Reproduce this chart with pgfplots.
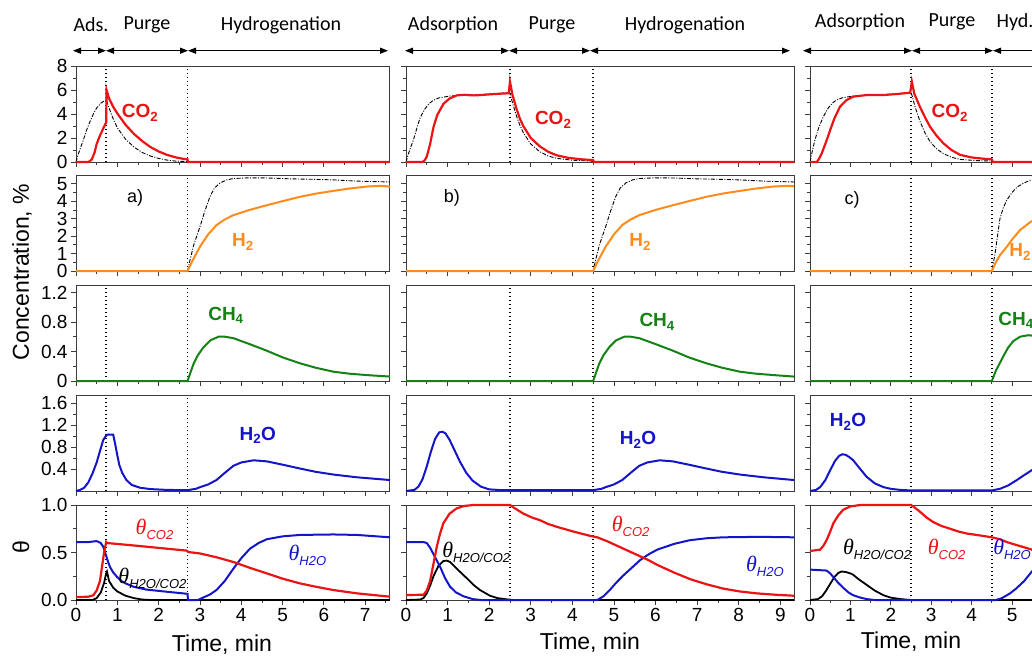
\documentclass[border=0pt]{standalone}
\usepackage{fontspec}
\setmainfont{Liberation Sans}
\newfontfamily\calib{Carlito}
\newfontfamily\tserif{Liberation Serif}
\usepackage{pgfplots}
\pgfplotsset{compat=1.18}
\usetikzlibrary{arrows.meta}
\definecolor{cred}{RGB}{235,20,20}
\definecolor{corange}{RGB}{255,140,26}
\definecolor{cgreen}{RGB}{20,130,20}
\definecolor{cblue}{RGB}{20,20,200}
\definecolor{cframe}{RGB}{60,60,60}
\newcommand{\thl}[1]{{\fontsize{22}{22}\selectfont\tserif\itshape θ}\raisebox{-5pt}{\fontsize{13}{13}\selectfont\itshape #1}}
\pgfplotsset{
  base/.style={scale only axis, xmin=0, ymin=0, height=96pt,
    tick align=outside, axis line style={line width=1pt, cframe},
    every tick/.append style={cframe, line width=0.8pt},
    major tick length=5pt, minor tick length=3pt,
    xtick distance=1, minor x tick num=1, minor y tick num=1,
    xtick pos=bottom, ytick pos=left,
    tick label style={font=\fontsize{19}{19}\selectfont},
    /pgf/number format/assume math mode=true,
    clip=false},
  noxl/.style={xticklabels={}},
  colA/.style={width=314pt, xmax=7.6},
  colB/.style={width=388pt, xmax=9.33, yticklabels={}},
  colC/.style={width=377pt, xmax=9.33, yticklabels={}},
  r1/.style={ymax=8, ytick={0,2,4,6,8}},
  r2/.style={ymax=5.5, ytick={0,1,2,3,4,5}},
  r3/.style={ymax=1.3, ytick={0,0.4,0.8,1.2}},
  r4/.style={ymax=1.75, ytick={0.4,0.8,1.2,1.6}},
  r5/.style={ymax=1, height=95pt, ytick={0,0.5,1}},
  vl/.style={black, line width=1.4pt, dash pattern=on 1.4pt off 2.6pt, forget plot},
  dd/.style={black, line width=0.9pt, dash pattern=on 4pt off 1.5pt on 1pt off 1.5pt},
  lr/.style={cred, line width=2.2pt},
  lo/.style={corange, line width=2pt},
  lg/.style={cgreen, line width=2pt},
  lb/.style={cblue, line width=2pt},
  lk/.style={black, line width=1.8pt},
}
\tikzset{spl/.style={font=\fontsize{19}{19}\selectfont\bfseries}, pl/.style={font=\fontsize{18}{18}\selectfont}}
\begin{document}
\begin{tikzpicture}
\useasboundingbox (0,0) rectangle (1032pt,-656pt);
\clip (0,0) rectangle (1032pt,-656pt);
%================ COLUMN A =================
\begin{axis}[base,colA,r1,noxl,at={(76pt,-162pt)},anchor=south west]
\addplot[vl] coordinates {(0.73,0) (0.73,8)};
\addplot[vl] coordinates {(2.7,0) (2.7,8)};
\addplot[dd] coordinates {(0,0) (0.05,0.6) (0.1,1.1) (0.18,1.85) (0.25,2.6) (0.33,3.3) (0.42,4.0) (0.5,4.5) (0.6,4.9) (0.73,5.2) (0.8,4.5) (0.9,3.6) (1.0,2.85) (1.2,1.9) (1.4,1.25) (1.6,0.8) (1.8,0.5) (2.0,0.3) (2.2,0.16) (2.4,0.08) (2.7,0.03) (2.72,0) (7.6,0)};
\addplot[lr] coordinates {(0,0) (0.3,0) (0.38,0.2) (0.45,0.8) (0.5,1.5) (0.58,2.2) (0.66,2.8) (0.73,3.3) (0.74,6.0) (0.8,5.3) (0.9,4.6) (1.0,4.05) (1.2,3.1) (1.4,2.35) (1.6,1.75) (1.8,1.25) (2.0,0.88) (2.2,0.6) (2.4,0.4) (2.6,0.26) (2.7,0.22) (2.71,0) (7.6,0)};
\node[spl,text=cred] at (axis cs:1.55,4.1) {CO\textsubscript{2}};
\end{axis}
\begin{axis}[base,colA,r2,noxl,at={(76pt,-271pt)},anchor=south west]
\addplot[vl] coordinates {(2.7,0) (2.7,5.5)};
\addplot[dd] coordinates {(0,0) (2.7,0) (2.76,0.63) (2.85,1.5) (3.0,2.53) (3.1,3.3) (3.24,4.25) (3.35,4.75) (3.49,5.05) (3.65,5.22) (3.81,5.3) (4.2,5.34) (4.62,5.33) (5.2,5.28) (5.8,5.25) (6.23,5.22) (6.8,5.15) (7.6,5.1)};
\addplot[lo] coordinates {(0,0) (2.7,0) (2.8,0.5) (2.9,0.95) (3.0,1.39) (3.2,2.1) (3.4,2.63) (3.6,2.95) (3.81,3.2) (4.2,3.5) (4.62,3.77) (5.0,4.0) (5.42,4.25) (5.8,4.43) (6.23,4.59) (6.6,4.72) (7.04,4.84) (7.4,4.88) (7.6,4.83)};
\node[spl,text=corange] at (axis cs:4.04,1.67) {H\textsubscript{2}};
\node[pl] at (axis cs:1.43,4.2) {a)};
\end{axis}
\begin{axis}[base,colA,r3,noxl,at={(76pt,-381pt)},anchor=south west]
\addplot[vl] coordinates {(0.73,0) (0.73,1.3)};
\addplot[vl] coordinates {(2.7,0) (2.7,1.3)};
\addplot[lg] coordinates {(0,0) (2.7,0) (2.78,0.13) (2.85,0.24) (2.95,0.35) (3.09,0.46) (3.25,0.55) (3.45,0.6) (3.6,0.6) (3.81,0.58) (4.2,0.5) (4.62,0.41) (5.0,0.32) (5.42,0.24) (5.8,0.18) (6.23,0.126) (6.6,0.1) (7.04,0.08) (7.6,0.06)};
\node[spl,text=cgreen] at (axis cs:3.63,0.89) {CH\textsubscript{4}};
\end{axis}
\begin{axis}[base,colA,r4,noxl,at={(76pt,-491pt)},anchor=south west]
\addplot[vl] coordinates {(0.73,0) (0.73,1.75)};
\addplot[vl] coordinates {(2.7,0) (2.7,1.75)};
\addplot[lb] coordinates {(0,0) (0.1,0.02) (0.2,0.06) (0.3,0.16) (0.4,0.32) (0.5,0.52) (0.6,0.78) (0.66,0.93) (0.72,1.0) (0.76,1.03) (0.9,1.03) (0.95,0.85) (1.0,0.65) (1.05,0.47) (1.12,0.33) (1.22,0.2) (1.35,0.11) (1.55,0.06) (1.8,0.035) (2.2,0.02) (2.7,0.015) (2.9,0.04) (3.0,0.07) (3.2,0.12) (3.4,0.2) (3.6,0.33) (3.81,0.46) (4.0,0.52) (4.3,0.56) (4.62,0.54) (5.0,0.48) (5.42,0.41) (5.8,0.35) (6.23,0.3) (6.8,0.25) (7.6,0.2)};
\node[spl,text=cblue] at (axis cs:4.4,1.02) {H\textsubscript{2}O};
\end{axis}
\begin{axis}[base,colA,r5,yticklabels={0.0,0.5,1.0},at={(76pt,-600pt)},anchor=south west]
\addplot[vl] coordinates {(0.73,0) (0.73,1)};
\addplot[vl] coordinates {(2.7,0) (2.7,1)};
\addplot[lk] coordinates {(0,0) (0.4,0) (0.5,0.02) (0.6,0.08) (0.68,0.18) (0.73,0.28) (0.75,0.3) (0.8,0.2) (0.9,0.13) (1.0,0.09) (1.2,0.045) (1.4,0.02) (1.6,0.005) (1.8,0) (7.6,0)};
\addplot[lb] coordinates {(0,0.61) (0.3,0.61) (0.5,0.62) (0.6,0.6) (0.66,0.56) (0.72,0.48) (0.77,0.41) (0.82,0.35) (0.9,0.29) (1.0,0.24) (1.1,0.2) (1.2,0.175) (1.39,0.14) (1.7,0.11) (2.2,0.087) (2.7,0.065) (2.71,0) (2.95,0) (3.1,0.03) (3.25,0.06) (3.4,0.105) (3.6,0.2) (3.81,0.33) (4.0,0.44) (4.21,0.54) (4.42,0.6) (4.62,0.64) (5.0,0.67) (5.42,0.685) (6.23,0.69) (6.8,0.685) (7.6,0.66)};
\addplot[lr] coordinates {(0,0.03) (0.3,0.035) (0.42,0.05) (0.5,0.1) (0.58,0.2) (0.63,0.35) (0.68,0.5) (0.73,0.61) (0.75,0.6) (1.5,0.57) (2.2,0.54) (2.68,0.52) (2.72,0.505) (3.0,0.49) (3.4,0.45) (3.81,0.4) (4.2,0.34) (4.62,0.28) (5.0,0.225) (5.42,0.175) (5.8,0.14) (6.23,0.105) (6.8,0.07) (7.6,0.035)};
\node[text=cred] at (axis cs:1.9,0.74) {\thl{CO2}};
\node[text=black] at (axis cs:1.85,0.23) {\thl{H2O/CO2}};
\node[text=cblue] at (axis cs:5.6,0.47) {\thl{H2O}};
\end{axis}
%================ COLUMN B =================
\begin{axis}[base,colB,r1,noxl,at={(406pt,-162pt)},anchor=south west]
\addplot[vl] coordinates {(2.5,0) (2.5,8)};
\addplot[vl] coordinates {(4.5,0) (4.5,8)};
\addplot[dd] coordinates {(0,0) (0.06,0.7) (0.12,1.3) (0.18,1.85) (0.26,2.8) (0.34,3.7) (0.45,4.4) (0.55,4.85) (0.66,5.15) (0.8,5.35) (1.06,5.5) (1.3,5.55) (1.62,5.58) (2.0,5.65) (2.46,5.77) (2.5,5.7) (2.58,4.7) (2.66,3.8) (2.74,3.05) (2.82,2.45) (3.0,1.5) (3.22,0.85) (3.42,0.5) (3.63,0.3) (4.0,0.15) (4.45,0.08) (4.5,0.06) (4.52,0) (9.33,0)};
\addplot[lr] coordinates {(0,0) (0.4,0) (0.45,0.15) (0.5,0.45) (0.58,1.5) (0.66,2.9) (0.75,3.9) (0.9,4.85) (1.05,5.3) (1.22,5.55) (1.4,5.6) (1.62,5.55) (1.8,5.58) (2.02,5.64) (2.2,5.68) (2.47,5.73) (2.5,6.7) (2.56,5.6) (2.66,4.4) (2.74,3.6) (2.82,3.0) (3.0,2.0) (3.22,1.3) (3.42,0.85) (3.63,0.55) (3.9,0.35) (4.2,0.23) (4.45,0.17) (4.5,0.15) (4.52,0) (9.33,0)};
\node[spl,text=cred] at (axis cs:3.54,3.5) {CO\textsubscript{2}};
\end{axis}
\begin{axis}[base,colB,r2,noxl,at={(406pt,-271pt)},anchor=south west]
\addplot[vl] coordinates {(4.5,0) (4.5,5.5)};
\addplot[dd] coordinates {(0,0) (4.5,0) (4.56,0.63) (4.65,1.5) (4.8,2.53) (4.9,3.3) (5.04,4.25) (5.15,4.75) (5.29,5.05) (5.45,5.22) (5.61,5.3) (6.0,5.34) (6.42,5.33) (7.0,5.28) (7.6,5.25) (8.03,5.22) (8.6,5.15) (9.33,5.1)};
\addplot[lo] coordinates {(0,0) (4.5,0) (4.6,0.5) (4.7,0.95) (4.8,1.39) (5.0,2.1) (5.2,2.63) (5.4,2.95) (5.61,3.2) (6.0,3.5) (6.42,3.77) (6.8,4.0) (7.22,4.25) (7.6,4.43) (8.03,4.59) (8.4,4.72) (8.84,4.84) (9.2,4.88) (9.33,4.86)};
\node[spl,text=corange] at (axis cs:5.63,1.67) {H\textsubscript{2}};
\node[pl] at (axis cs:1.1,4.2) {b)};
\end{axis}
\begin{axis}[base,colB,r3,noxl,at={(406pt,-381pt)},anchor=south west]
\addplot[vl] coordinates {(2.5,0) (2.5,1.3)};
\addplot[vl] coordinates {(4.5,0) (4.5,1.3)};
\addplot[lg] coordinates {(0,0) (4.5,0) (4.58,0.13) (4.65,0.24) (4.75,0.35) (4.89,0.46) (5.05,0.55) (5.25,0.6) (5.4,0.6) (5.61,0.58) (6.0,0.5) (6.42,0.41) (6.8,0.32) (7.22,0.24) (7.6,0.18) (8.03,0.126) (8.4,0.1) (8.84,0.08) (9.33,0.06)};
\node[spl,text=cgreen] at (axis cs:6.04,0.8) {CH\textsubscript{4}};
\end{axis}
\begin{axis}[base,colB,r4,noxl,at={(406pt,-491pt)},anchor=south west]
\addplot[vl] coordinates {(2.5,0) (2.5,1.75)};
\addplot[vl] coordinates {(4.5,0) (4.5,1.75)};
\addplot[lb] coordinates {(0,0) (0.2,0.02) (0.3,0.08) (0.4,0.22) (0.5,0.45) (0.6,0.72) (0.7,0.95) (0.8,1.07) (0.88,1.08) (0.95,1.05) (1.05,0.93) (1.15,0.77) (1.3,0.53) (1.45,0.33) (1.6,0.19) (1.8,0.08) (2.0,0.03) (2.3,0.015) (4.5,0.015) (4.7,0.04) (4.8,0.07) (5.0,0.12) (5.2,0.2) (5.4,0.33) (5.61,0.46) (5.8,0.52) (6.1,0.56) (6.42,0.54) (6.8,0.48) (7.22,0.41) (7.6,0.35) (8.03,0.3) (8.6,0.25) (9.33,0.2)};
\node[spl,text=cblue] at (axis cs:5.58,0.93) {H\textsubscript{2}O};
\end{axis}
\begin{axis}[base,colB,r5,at={(406pt,-600pt)},anchor=south west]
\addplot[vl] coordinates {(2.5,0) (2.5,1)};
\addplot[vl] coordinates {(4.5,0) (4.5,1)};
\addplot[lk] coordinates {(0,0) (0.34,0.005) (0.42,0.02) (0.5,0.07) (0.58,0.15) (0.66,0.25) (0.78,0.36) (0.9,0.41) (0.98,0.415) (1.06,0.4) (1.22,0.33) (1.34,0.28) (1.46,0.23) (1.62,0.16) (1.78,0.105) (2.02,0.045) (2.2,0.02) (2.42,0.007) (2.6,0) (9.33,0)};
\addplot[lb] coordinates {(0,0.61) (0.42,0.61) (0.5,0.6) (0.58,0.55) (0.7,0.45) (0.82,0.35) (0.94,0.23) (1.06,0.14) (1.2,0.08) (1.38,0.04) (1.6,0.01) (1.8,0) (4.6,0) (4.75,0.04) (4.9,0.105) (5.05,0.18) (5.23,0.26) (5.43,0.34) (5.63,0.42) (5.83,0.48) (6.04,0.53) (6.44,0.59) (6.83,0.63) (7.23,0.65) (7.63,0.66) (8.5,0.665) (9.33,0.66)};
\addplot[lr] coordinates {(0,0.053) (0.42,0.055) (0.5,0.1) (0.58,0.2) (0.66,0.38) (0.74,0.56) (0.82,0.7) (0.9,0.81) (1.05,0.91) (1.22,0.965) (1.4,0.99) (1.62,1.0) (2.5,1.0) (2.6,0.97) (2.82,0.91) (3.02,0.87) (3.22,0.84) (3.42,0.8) (3.63,0.77) (4.03,0.72) (4.43,0.675) (4.6,0.66) (4.83,0.62) (5.03,0.58) (5.23,0.54) (5.43,0.5) (5.63,0.46) (5.83,0.42) (6.04,0.37) (6.44,0.29) (6.83,0.22) (7.23,0.165) (7.63,0.12) (8.03,0.09) (8.43,0.07) (8.9,0.055) (9.33,0.045)};
\node[text=black] at (axis cs:1.69,0.5) {\thl{H2O/CO2}};
\node[text=cred] at (axis cs:5.4,0.77) {\thl{CO2}};
\node[text=cblue] at (axis cs:8.63,0.35) {\thl{H2O}};
\end{axis}
%================ COLUMN C =================
\begin{axis}[base,colC,r1,noxl,at={(810pt,-162pt)},anchor=south west]
\addplot[vl] coordinates {(2.5,0) (2.5,8)};
\addplot[vl] coordinates {(4.5,0) (4.5,8)};
\addplot[dd] coordinates {(0,0) (0.05,0.8) (0.12,1.83) (0.22,2.9) (0.33,3.78) (0.45,4.5) (0.55,4.9) (0.66,5.17) (0.8,5.35) (1.07,5.5) (1.6,5.58) (2.0,5.65) (2.48,5.77) (2.52,5.6) (2.6,4.6) (2.72,3.4) (2.85,2.4) (2.97,1.7) (3.13,1.1) (3.3,0.7) (3.5,0.4) (3.71,0.22) (4.1,0.12) (4.5,0.08) (4.52,0) (9.33,0)};
\addplot[lr] coordinates {(0,0) (0.17,0) (0.22,0.25) (0.29,0.72) (0.4,1.7) (0.5,2.67) (0.6,3.6) (0.74,4.6) (0.9,5.15) (1.07,5.45) (1.4,5.58) (1.82,5.58) (2.2,5.68) (2.48,5.78) (2.52,6.7) (2.58,5.7) (2.72,4.6) (2.85,3.7) (2.97,2.94) (3.13,2.2) (3.3,1.56) (3.5,1.0) (3.71,0.6) (4.0,0.38) (4.3,0.27) (4.5,0.22) (4.52,0) (9.33,0)};
\node[spl,text=cred] at (axis cs:3.46,4.1) {CO\textsubscript{2}};
\end{axis}
\begin{axis}[base,colC,r2,noxl,at={(810pt,-271pt)},anchor=south west]
\addplot[vl] coordinates {(2.5,0) (2.5,5.5)};
\addplot[vl] coordinates {(4.5,0) (4.5,5.5)};
\addplot[dd] coordinates {(0,0) (4.5,0) (4.58,1.0) (4.64,2.0) (4.7,3.0) (4.78,3.6) (4.87,4.06) (5.0,4.5) (5.12,4.8) (5.3,5.05) (5.45,5.2) (5.7,5.3) (6.2,5.33) (7.0,5.28) (8.0,5.22) (9.33,5.1)};
\addplot[lo] coordinates {(0,0) (4.5,0) (4.6,0.5) (4.7,0.9) (4.87,1.39) (5.0,1.8) (5.2,2.35) (5.45,2.8) (5.7,3.1) (6.0,3.4) (6.5,3.75) (7.0,4.05) (7.5,4.3) (8.0,4.5) (8.5,4.68) (9.33,4.85)};
\node[spl,text=corange] at (axis cs:5.2,1.1) {H\textsubscript{2}};
\node[pl] at (axis cs:1.04,4.05) {c)};
\end{axis}
\begin{axis}[base,colC,r3,noxl,at={(810pt,-381pt)},anchor=south west]
\addplot[vl] coordinates {(2.5,0) (2.5,1.3)};
\addplot[vl] coordinates {(4.5,0) (4.5,1.3)};
\addplot[lg] coordinates {(0,0) (4.5,0) (4.6,0.14) (4.78,0.33) (4.9,0.45) (5.03,0.54) (5.2,0.6) (5.4,0.62) (5.6,0.61) (6.0,0.55) (6.5,0.45) (7.0,0.35) (7.5,0.26) (8.0,0.19) (8.5,0.13) (9.33,0.08)};
\node[spl,text=cgreen] at (axis cs:5.1,0.82) {CH\textsubscript{4}};
\end{axis}
\begin{axis}[base,colC,r4,noxl,at={(810pt,-491pt)},anchor=south west]
\addplot[vl] coordinates {(2.5,0) (2.5,1.75)};
\addplot[vl] coordinates {(4.5,0) (4.5,1.75)};
\addplot[lb] coordinates {(0,0) (0.15,0.02) (0.25,0.07) (0.38,0.2) (0.5,0.38) (0.62,0.55) (0.72,0.64) (0.8,0.67) (0.88,0.66) (0.97,0.62) (1.07,0.56) (1.2,0.44) (1.4,0.26) (1.6,0.14) (1.82,0.07) (2.0,0.04) (2.23,0.02) (2.5,0.01) (4.5,0.01) (4.7,0.04) (4.9,0.1) (5.12,0.2) (5.3,0.29) (5.49,0.38) (5.7,0.46) (6.0,0.53) (6.5,0.55) (7.0,0.5) (8.0,0.38) (9.33,0.25)};
\node[spl,text=cblue] at (axis cs:0.94,1.26) {H\textsubscript{2}O};
\end{axis}
\begin{axis}[base,colC,r5,at={(810pt,-600pt)},anchor=south west]
\addplot[vl] coordinates {(2.5,0) (2.5,1)};
\addplot[vl] coordinates {(4.5,0) (4.5,1)};
\addplot[lk] coordinates {(0,0) (0.2,0.01) (0.3,0.04) (0.4,0.1) (0.5,0.17) (0.6,0.24) (0.7,0.285) (0.78,0.3) (0.88,0.295) (1.0,0.28) (1.07,0.265) (1.2,0.22) (1.4,0.16) (1.6,0.1) (1.82,0.05) (2.0,0.025) (2.23,0.01) (2.5,0) (9.33,0)};
\addplot[lb] coordinates {(0,0.32) (0.41,0.31) (0.5,0.28) (0.58,0.24) (0.7,0.18) (0.82,0.13) (0.95,0.08) (1.07,0.05) (1.25,0.025) (1.4,0.01) (1.6,0) (4.6,0) (4.75,0.02) (4.95,0.07) (5.1,0.12) (5.3,0.2) (5.49,0.3) (5.7,0.38) (6.0,0.47) (6.5,0.57) (7.0,0.62) (8.0,0.65) (9.33,0.65)};
\addplot[lr] coordinates {(0,0.516) (0.25,0.53) (0.33,0.57) (0.41,0.63) (0.5,0.72) (0.58,0.81) (0.7,0.89) (0.82,0.95) (1.0,0.985) (1.24,1.0) (2.5,1.0) (2.6,0.97) (2.72,0.93) (2.88,0.87) (3.05,0.82) (3.25,0.78) (3.47,0.75) (3.68,0.72) (3.88,0.7) (4.2,0.68) (4.5,0.66) (4.7,0.64) (4.87,0.61) (5.1,0.58) (5.3,0.555) (5.49,0.53) (5.8,0.47) (6.2,0.39) (7.0,0.25) (8.0,0.13) (9.33,0.06)};
\node[text=black] at (axis cs:1.66,0.53) {\thl{H2O/CO2}};
\node[text=cred] at (axis cs:3.38,0.53) {\thl{CO2}};
\node[text=cblue] at (axis cs:5.0,0.53) {\thl{H2O}};
\end{axis}
%================ ANNOTATIONS =================
\node[rotate=90,font=\fontsize{23}{23}\selectfont] at (22pt,-272pt) {Concentration, \%};
\node[rotate=90,font=\fontsize{23}{23}\selectfont] at (21pt,-547pt) {θ};
\node[font=\fontsize{23}{23}\selectfont] at (222pt,-645pt) {Time, min};
\node[font=\fontsize{23}{23}\selectfont] at (590pt,-643pt) {Time, min};
\node[font=\fontsize{23}{23}\selectfont] at (911pt,-642pt) {Time, min};
\tikzset{ar/.style={line width=1.2pt, {Triangle[length=8pt,width=6pt]}-{Triangle[length=8pt,width=6pt]}}, ph/.style={font=\calib\fontsize{20}{20}\selectfont}}
\draw[ar] (73pt,-50.7pt) -- (106pt,-50.7pt);
\draw[ar] (106pt,-50.7pt) -- (188pt,-50.7pt);
\draw[ar] (188pt,-50.7pt) -- (388pt,-50.7pt);
\draw[ar] (405pt,-50.7pt) -- (509pt,-50.7pt);
\draw[ar] (509pt,-50.7pt) -- (590pt,-50.7pt);
\draw[ar] (590pt,-50.7pt) -- (790pt,-50.7pt);
\draw[ar] (803pt,-50.7pt) -- (912pt,-50.7pt);
\draw[ar] (912pt,-50.7pt) -- (993pt,-50.7pt);
\draw[ar] (993pt,-50.7pt) -- (1190pt,-50.7pt);
\node[ph] at (91pt,-25pt) {Ads.};
\node[ph] at (147pt,-25pt) {Purge};
\node[ph] at (281pt,-25pt) {Hydrogenation};
\node[ph] at (453pt,-25pt) {Adsorption};
\node[ph] at (552pt,-25pt) {Purge};
\node[ph] at (685pt,-25pt) {Hydrogenation};
\node[ph] at (860pt,-22pt) {Adsorption};
\node[ph] at (952pt,-22pt) {Purge};
\node[ph,anchor=west] at (993pt,-22pt) {Hyd.};
\end{tikzpicture}
\end{document}
